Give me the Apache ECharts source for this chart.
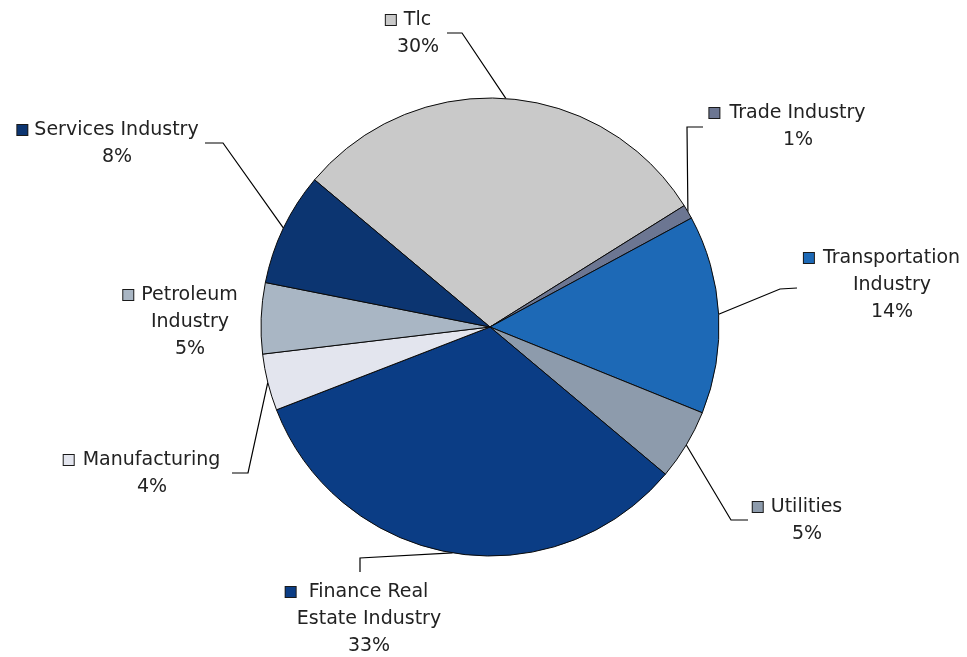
<!DOCTYPE html>
<html>
<head>
<meta charset="utf-8">
<style>
  html, body { margin: 0; padding: 0; background: #ffffff; }
  #chart { width: 967px; height: 657px; }
</style>
<script src="https://cdn.jsdelivr.net/npm/echarts@6/dist/echarts.min.js"></script>
</head>
<body>
<div id="chart"></div>
<script>
// Sector shares (percent), listed clockwise starting from "Tlc"
const categories = [
  'Tlc',
  'Trade Industry',
  'Transportation\nIndustry',
  'Utilities',
  'Finance Real\nEstate Industry',
  'Manufacturing',
  'Petroleum\nIndustry',
  'Services Industry'
];
const shares = [30, 1, 14, 5, 33, 4, 5, 8];

// Slice fill colours, same order as categories
const sliceColors = [
  '#c9c9c9', '#6c7692', '#1d69b6', '#8d9bac',
  '#0b3d85', '#e3e5ee', '#a9b6c4', '#0c3571'
];

// Label placement: text centre x, first-line centre y, gap after key, leader elbow and end
const labelPlacement = [
  { x: 418, y: 20,  gap: 8,  line: [[462, 33], [447, 33]] },
  { x: 798, y: 113, gap: 10, line: [[687, 127], [703, 127]] },
  { x: 892, y: 258, gap: 9,  line: [[780, 289], [797, 288]] },
  { x: 807, y: 507, gap: 8,  line: [[731, 520], [748, 520]] },
  { x: 369, y: 592, gap: 13, line: [[360, 558], [360, 572]] },
  { x: 152, y: 460, gap: 9,  line: [[248, 473], [232, 473]] },
  { x: 190, y: 295, gap: 8,  line: null },
  { x: 117, y: 130, gap: 7,  line: [[223, 143], [205, 143]] }
];

const LINE_H = 27;
const KEY = 10;
const FONT = '"DejaVu Sans", Arial, sans-serif';

const rich = {};
sliceColors.forEach(function (c, i) {
  const g = labelPlacement[i].gap;
  rich['sq' + i] = {
    width: KEY, height: KEY, backgroundColor: c,
    borderColor: '#1a1a1a', borderWidth: 1, lineHeight: LINE_H
  };
  rich['gap' + i] = { width: g, lineHeight: LINE_H };
  rich['pad' + i] = { width: g + KEY + 1, lineHeight: LINE_H };
});

const chart = echarts.init(document.getElementById('chart'), null, { renderer: 'canvas' });

chart.setOption({
  backgroundColor: '#ffffff',
  animation: false,
  series: [{
    type: 'pie',
    center: [490, 327],
    radius: 229,
    startAngle: 140,
    clockwise: true,
    avoidLabelOverlap: false,
    itemStyle: { borderColor: '#0a0a0a', borderWidth: 1 },
    emphasis: { disabled: true },
    data: categories.map(function (name, i) {
      return { name: name, value: shares[i], itemStyle: { color: sliceColors[i] } };
    }),
    label: {
      show: true,
      position: 'outside',
      color: '#222',
      fontFamily: FONT,
      fontSize: 19,
      lineHeight: LINE_H,
      align: 'center',
      rich: rich,
      formatter: function (p) {
        const i = p.dataIndex;
        const lines = p.name.split('\n');
        const first = '{sq' + i + '|}{gap' + i + '|}' + lines[0] + '{pad' + i + '|}';
        const rest = lines.slice(1);
        return [first].concat(rest).concat([Math.round(p.percent) + '%']).join('\n');
      }
    },
    labelLine: {
      show: true,
      length: 20,
      length2: 10,
      smooth: false,
      lineStyle: { color: '#000', width: 1.2 }
    },
    labelLayout: function (params) {
      const spot = labelPlacement[params.dataIndex];
      const pts = params.labelLinePoints;
      const out = {
        x: spot.x,
        y: spot.y - LINE_H / 2,
        align: 'center',
        verticalAlign: 'top'
      };
      if (pts && pts.length) {
        const start = pts[0];
        out.labelLinePoints = spot.line
          ? [start, spot.line[0], spot.line[1]]
          : [start, start, start];
      }
      return out;
    }
  }]
});
</script>
</body>
</html>
